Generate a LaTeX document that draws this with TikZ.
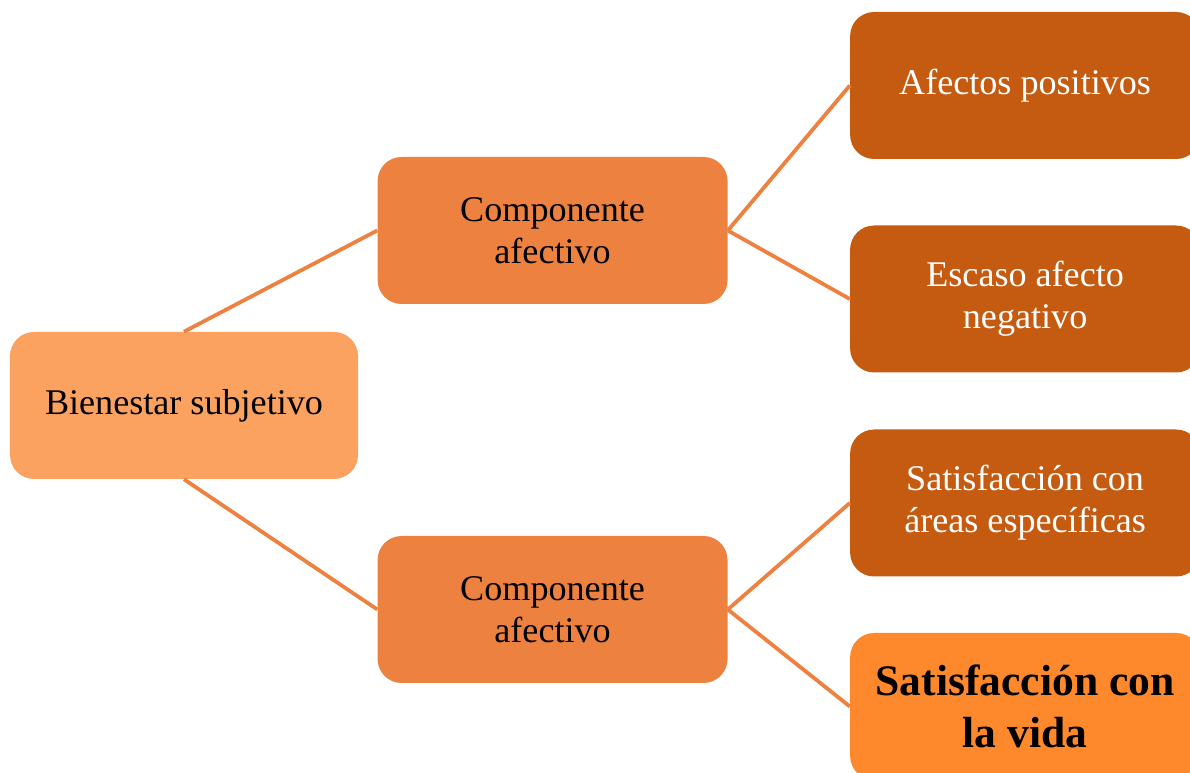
\documentclass[tikz,border=0pt]{standalone}
\usepackage{fontspec}
\setmainfont{Liberation Serif}
\usepackage{tikz}
\usetikzlibrary{positioning}
\usepackage{xcolor}
\definecolor{rootorange}{RGB}{251, 162, 97}
\definecolor{midorange}{RGB}{237, 130, 64}
\definecolor{leafbrown}{RGB}{197, 90, 17}
\definecolor{lifeorange}{RGB}{254, 137, 44}
\definecolor{lineorange}{RGB}{237, 130, 64}
\tikzset{
  rootbox/.style={rectangle, rounded corners=0.6cm, fill=rootorange,
              minimum height=3.675cm, minimum width=8.7cm, align=center,
              font=\fontsize{25.7}{29.9}\selectfont},
  midbox/.style={rectangle, rounded corners=0.6cm, fill=midorange,
              minimum height=3.675cm, minimum width=8.75cm, align=center,
              font=\fontsize{25.7}{29.9}\selectfont},
  leafbox/.style={rectangle, rounded corners=0.6cm, fill=leafbrown, text=white,
              minimum height=3.675cm, minimum width=8.75cm, align=center,
              font=\fontsize{25.7}{29.9}\selectfont},
  lifebox/.style={rectangle, rounded corners=0.6cm, fill=lifeorange,
              minimum height=3.675cm, minimum width=8.75cm, align=center,
              font=\fontsize{31}{37}\selectfont\bfseries},
  link/.style={line width=2.7pt, draw=lineorange},
}

\begin{document}
\begin{tikzpicture}
    \useasboundingbox (-4.6,-9.1875) rectangle (25.15,10.1375);

    \node[rootbox] (bien) {Bienestar subjetivo};
    \node[midbox, right=0.475cm of bien, yshift=4.375cm] (afec1) {Componente\\ afectivo};
    \node[midbox, right=0.475cm of bien, yshift=-5.1cm] (afec2) {Componente\\ afectivo};

    \node[leafbox, right=3.05cm of afec1, yshift=3.625cm] (pos) {Afectos positivos};
    \node[leafbox, right=3.05cm of afec1, yshift=-1.7125cm] (neg) {Escaso afecto\\ negativo};
    \node[leafbox, right=3.05cm of afec2, yshift=2.6625cm] (areas) {Satisfacción con\\ áreas específicas};
    \node[lifebox, right=3.05cm of afec2, yshift=-2.425cm] (vida) {Satisfacción con\\ la vida};

    \draw[link] (bien.north)--(afec1.west);
    \draw[link] (bien.south)--(afec2.west);
    \draw[link] (afec1.east)--(pos.west);
    \draw[link] (afec1.east)--(neg.west);
    \draw[link] (afec2.east)--(areas.west);
    \draw[link] (afec2.east)--(vida.west);
  \end{tikzpicture}
\end{document}
